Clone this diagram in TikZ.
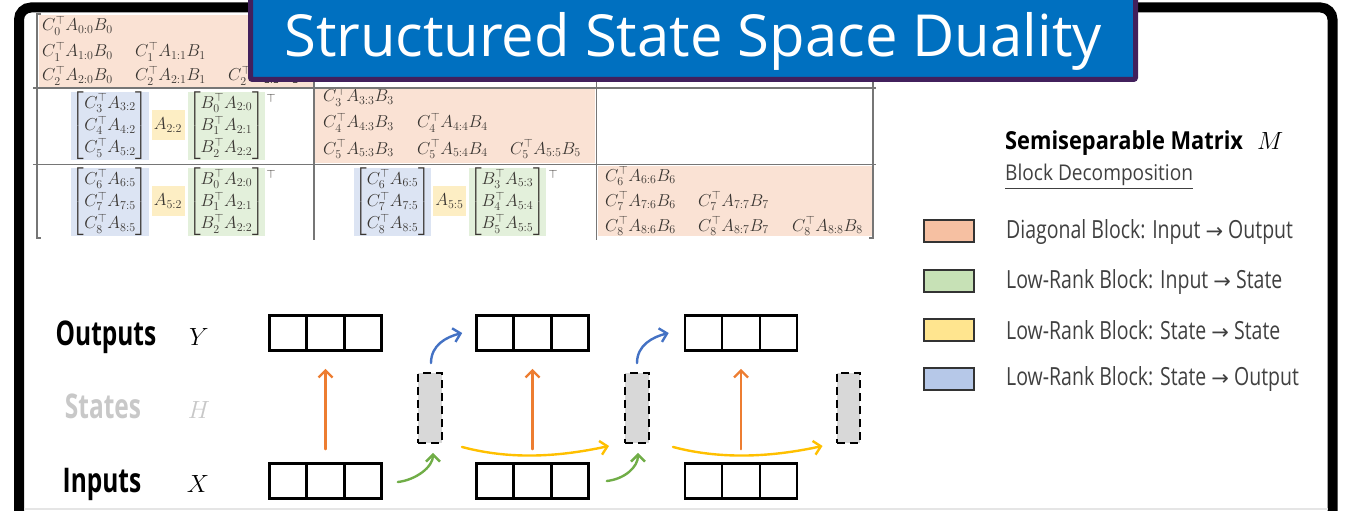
\documentclass[tikz,border=0pt]{standalone}
\usepackage{amsmath}
\usepackage{amssymb}
\usepackage{fontspec}
\usepackage{tikz}
\usetikzlibrary{positioning}
\usetikzlibrary{arrows.meta}
\usetikzlibrary{calc}
\newfontfamily\titlefont{Open Sans}
\newfontfamily\labelfont[FakeStretch=0.72]{Open Sans}
\newfontfamily\headfont[FakeStretch=0.88]{Open Sans}
\newfontfamily\keyfont[FakeStretch=0.78]{Open Sans}
\newfontfamily\arrowfont{DejaVu Sans}
\newcommand{\keyarrow}{{\arrowfont\fontsize{21}{21}\selectfont →}}
\definecolor{titleblue}{RGB}{0,112,192}
\definecolor{titlerim}{RGB}{66,32,92}
\definecolor{diagfill}{RGB}{250,226,212}
\definecolor{bluefill}{RGB}{220,228,243}
\definecolor{greenfill}{RGB}{227,240,219}
\definecolor{yellowfill}{RGB}{253,238,196}
\definecolor{diagkey}{RGB}{246,192,162}
\definecolor{greenkey}{RGB}{199,225,182}
\definecolor{yellowkey}{RGB}{255,229,143}
\definecolor{bluekey}{RGB}{182,200,232}
\definecolor{mathgrey}{RGB}{58,54,50}
\definecolor{gridgrey}{RGB}{118,118,118}
\definecolor{arrorange}{RGB}{237,125,49}
\definecolor{arrblue}{RGB}{68,114,196}
\definecolor{arrgreen}{RGB}{112,173,71}
\definecolor{arryellow}{RGB}{255,192,0}
\definecolor{stategrey}{RGB}{216,216,216}
\definecolor{labelgrey}{RGB}{200,200,200}
\renewcommand{\arraystretch}{1.12}

\begin{document}
\begin{tikzpicture}
    [x=1pt,y=-1pt,
     entry/.style={anchor=base west,inner sep=0pt,text height=12pt,text depth=3pt,text=mathgrey,font=\fontsize{18.8}{22}\selectfont},
     blk/.style={inner sep=0.5pt,text=mathgrey,font=\fontsize{18.8}{20}\selectfont},
     seqbox/.style={draw,line width=2.6pt,minimum width=112pt,minimum height=35pt,inner sep=0pt},
     statebox/.style={draw,dash pattern=on 8pt off 5pt,line width=2.4pt,fill=stategrey,minimum width=23.5pt,minimum height=69.5pt,inner sep=0pt},
     flow/.style={line width=2.4pt,line cap=round,-{Straight Barb[length=7pt,width=14pt]}},
     keybox/.style={draw=black!80,line width=2pt,minimum width=50pt,minimum height=22pt,inner sep=0pt},
     keytext/.style={anchor=west,inner sep=0pt,text=black!75,font=\keyfont\fontsize{25}{30}\selectfont}]
    \useasboundingbox (0,0) rectangle (1347,511);
    \clip (0,0) rectangle (1347,511);
    % matrix blocks
    \fill[diagfill] (39,15) rectangle (313,87);
    \fill[diagfill] (315,89) rectangle (595,163);
    \fill[diagfill] (598,166) rectangle (873,236);
    \node[entry] (e00) at (42,31) {$C_0^\top A_{0:0}B_0$};
    \node[entry] (e10) at (42,57) {$C_1^\top A_{1:0}B_0$};
    \node[entry] (e11) at (135,57) {$C_1^\top A_{1:1}B_1$};
    \node[entry] (e20) at (42,81) {$C_2^\top A_{2:0}B_0$};
    \node[entry] (e21) at (135,81) {$C_2^\top A_{2:1}B_1$};
    \node[entry] (e22) at (228,81) {$C_2^\top A_{2:2}B_2$};
    \node[entry] (e33) at (323,102) {$C_3^\top A_{3:3}B_3$};
    \node[entry] (e43) at (323,128) {$C_4^\top A_{4:3}B_3$};
    \node[entry] (e44) at (417,128) {$C_4^\top A_{4:4}B_4$};
    \node[entry] (e53) at (323,154) {$C_5^\top A_{5:3}B_3$};
    \node[entry] (e54) at (417,154) {$C_5^\top A_{5:4}B_4$};
    \node[entry] (e55) at (510,154) {$C_5^\top A_{5:5}B_5$};
    \node[entry] (e66) at (605,181) {$C_6^\top A_{6:6}B_6$};
    \node[entry] (e76) at (605,206) {$C_7^\top A_{7:6}B_6$};
    \node[entry] (e77) at (698,206) {$C_7^\top A_{7:7}B_7$};
    \node[entry] (e86) at (605,231) {$C_8^\top A_{8:6}B_6$};
    \node[entry] (e87) at (698,231) {$C_8^\top A_{8:7}B_7$};
    \node[entry] (e88) at (792,231) {$C_8^\top A_{8:8}B_8$};
    % low-rank blocks
    \node[blk,fill=bluefill,minimum width=75pt,minimum height=68pt] (c21) at (110,126) {$\begin{bmatrix}C_3^\top A_{3:2}\\C_4^\top A_{4:2}\\C_5^\top A_{5:2}\end{bmatrix}$};
    \node[blk,fill=yellowfill,minimum width=33pt,minimum height=30pt] (a21) at (168,125) {$A_{2:2}$};
    \node[blk,fill=greenfill,minimum width=73pt,minimum height=68pt] (b21) at (226.5,126) {$\begin{bmatrix}B_0^\top A_{2:0}\\B_1^\top A_{2:1}\\B_2^\top A_{2:2}\end{bmatrix}$};
    \node[blk,inner sep=0pt,font=\fontsize{13}{15}\selectfont] (t21) at (271,98) {$\top$};
    \node[blk,fill=bluefill,minimum width=75pt,minimum height=68pt] (c31) at (110,202) {$\begin{bmatrix}C_6^\top A_{6:5}\\C_7^\top A_{7:5}\\C_8^\top A_{8:5}\end{bmatrix}$};
    \node[blk,fill=yellowfill,minimum width=33pt,minimum height=30pt] (a31) at (168,201) {$A_{5:2}$};
    \node[blk,fill=greenfill,minimum width=73pt,minimum height=68pt] (b31) at (226.5,202) {$\begin{bmatrix}B_0^\top A_{2:0}\\B_1^\top A_{2:1}\\B_2^\top A_{2:2}\end{bmatrix}$};
    \node[blk,inner sep=0pt,font=\fontsize{13}{15}\selectfont] (t31) at (271,174) {$\top$};
    \node[blk,fill=bluefill,minimum width=75pt,minimum height=68pt] (c32) at (392.5,202) {$\begin{bmatrix}C_6^\top A_{6:5}\\C_7^\top A_{7:5}\\C_8^\top A_{8:5}\end{bmatrix}$};
    \node[blk,fill=yellowfill,minimum width=33pt,minimum height=30pt] (a32) at (449.5,201) {$A_{5:5}$};
    \node[blk,fill=greenfill,minimum width=73pt,minimum height=68pt] (b32) at (507.5,202) {$\begin{bmatrix}B_3^\top A_{5:3}\\B_4^\top A_{5:4}\\B_5^\top A_{5:5}\end{bmatrix}$};
    \node[blk,inner sep=0pt,font=\fontsize{13}{15}\selectfont] (t32) at (553,174) {$\top$};
    % grid and brackets
    \draw[gridgrey,line width=1.4pt] (33,88) -- (876,88) (33,164.5) -- (876,164.5);
    \draw[gridgrey,line width=1.4pt] (314,12) -- (314,240) (596.5,12) -- (596.5,240);
    \draw[gridgrey,line width=1.3pt] (41,14) -- (37,14) -- (37,238) -- (41,238);
    \draw[gridgrey,line width=1.3pt] (869,14) -- (873,14) -- (873,238) -- (869,238);
    % frame and title
    \draw[line width=10pt,rounded corners=12pt] (19,530) -- (19,7.5) -- (1332.5,7.5) -- (1332.5,530);
    \draw[black!10,line width=1.5pt] (24,509) -- (1328,509);
    \filldraw[fill=titleblue,draw=titlerim,line width=5pt,rounded corners=2pt] (250.5,-10) rectangle (1135.5,79.5);
    \node[anchor=base,inner sep=0pt,text=white,font=\titlefont\fontsize{58}{70}\selectfont] (title) at (693,57) {Structured State Space Duality};
    % legend
    \node[anchor=base west,inner sep=0pt,font=\headfont\bfseries\fontsize{24.8}{28}\selectfont] (mtitle) at (1005,149) {Semiseparable Matrix};
    \node[anchor=base west,inner sep=0pt,font=\fontsize{26}{30}\selectfont] (mname) at (1257,149) {$M$};
    \node[anchor=base west,inner sep=0pt,text=black!75,font=\headfont\fontsize{21.7}{26}\selectfont] (msub) at (1005,180) {\underline{Block Decomposition}};
    \node[keybox,fill=diagkey] (kdiag) at (949,231) {};
    \node[keytext] (ldiag) at (1006,232) {Diagonal Block: Input \keyarrow{} Output};
    \node[keybox,fill=greenkey] (kgreen) at (949,281) {};
    \node[keytext] (lgreen) at (1006,282) {Low-Rank Block: Input \keyarrow{} State};
    \node[keybox,fill=yellowkey] (kyellow) at (949,329.5) {};
    \node[keytext] (lyellow) at (1006,330.5) {Low-Rank Block: State \keyarrow{} State};
    \node[keybox,fill=bluekey] (kblue) at (949,378.5) {};
    \node[keytext] (lblue) at (1006,379.5) {Low-Rank Block: State \keyarrow{} Output};
    % sequence view
    \node[anchor=base,inner sep=0pt,font=\labelfont\bfseries\fontsize{34}{40}\selectfont] (lout) at (106,345) {Outputs};
    \node[anchor=base,inner sep=0pt,text=labelgrey,font=\labelfont\bfseries\fontsize{34}{40}\selectfont] (lstate) at (103,418) {States};
    \node[anchor=base,inner sep=0pt,font=\labelfont\bfseries\fontsize{34}{40}\selectfont] (lin) at (102,492) {Inputs};
    \node[anchor=base,inner sep=0pt,font=\fontsize{33}{40}\selectfont] (vy) at (199,345) {$Y$};
    \node[anchor=base,inner sep=0pt,text=labelgrey,font=\fontsize{33}{40}\selectfont] (vh) at (199,418) {$H$};
    \node[anchor=base,inner sep=0pt,font=\fontsize{33}{40}\selectfont] (vx) at (198,492) {$X$};
    \node[seqbox] (out1) at (325.5,333) {};
    \node[seqbox] (out2) at (532.5,333) {};
    \node[seqbox] (out3) at (741,333) {};
    \node[seqbox] (in1) at (325.5,481) {};
    \node[seqbox] (in2) at (532.5,481) {};
    \node[seqbox] (in3) at (741,481) {};
    \foreach \b in {out1,out2,out3,in1,in2,in3}
        \draw[line width=2.6pt] ($(\b.north west)!1/3!(\b.north east)$) -- ($(\b.south west)!1/3!(\b.south east)$)
            ($(\b.north west)!2/3!(\b.north east)$) -- ($(\b.south west)!2/3!(\b.south east)$);
    \node[statebox] (h1) at (430,408) {};
    \node[statebox] (h2) at (637,408) {};
    \node[statebox] (h3) at (848.5,408) {};
    \draw[flow,arrorange] ($(in1.north)+(0,-13)$) -- ($(out1.south)+(0,17)$);
    \draw[flow,arrorange] ($(in2.north)+(0,-13)$) -- ($(out2.south)+(0,17)$);
    \draw[flow,arrorange] ($(in3.north)+(0,-13)$) -- ($(out3.south)+(0,17)$);
    \draw[flow,arrblue] ($(h1.north)+(1,-9)$) .. controls +(0,-18) and +(-16,4) .. ($(out2.west)+(-13,0)$);
    \draw[flow,arrblue] ($(h2.north)+(0,-9)$) .. controls +(0,-18) and +(-16,4) .. ($(out3.west)+(-15,0)$);
    \draw[flow,arrgreen] ($(in1.east)+(15,1)$) .. controls +(18,-2) and +(0,14) .. ($(h1.south)+(3,9)$);
    \draw[flow,arrgreen] ($(in2.east)+(17,0)$) .. controls +(18,-2) and +(0,14) .. ($(h2.south)+(1,9)$);
    \draw[flow,arryellow] ($(h1.south east)+(19,3)$) .. controls +(45,12) and +(-55,12) .. ($(h2.south west)+(-15,2)$);
    \draw[flow,arryellow] ($(h2.south east)+(23,3)$) .. controls +(45,12) and +(-55,12) .. ($(h3.south west)+(-13,2)$);
\end{tikzpicture}
\end{document}
